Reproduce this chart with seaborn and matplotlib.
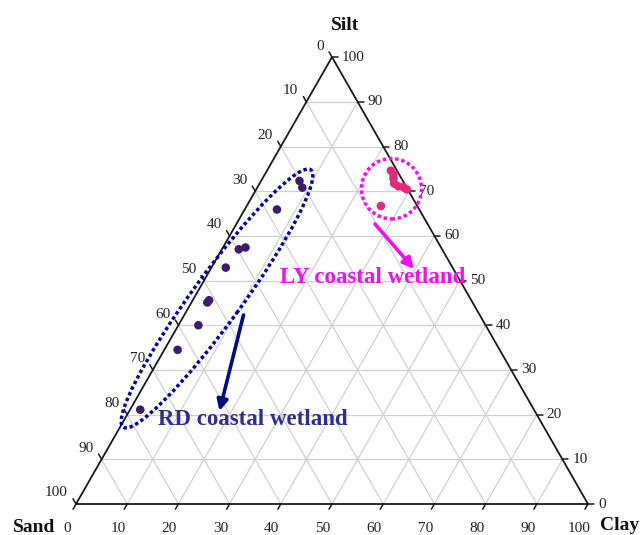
import numpy as np
import pandas as pd
import matplotlib
matplotlib.use("Agg")
import matplotlib.pyplot as plt
from matplotlib.patches import Ellipse
import seaborn as sns

# ---------------- data (percent) ----------------
rd_sand = [20.2, 20.4, 27.8, 39.7, 38.2, 44.3, 51.2, 51.8, 56.1, 62.9, 76.9]
rd_silt = [72.3, 70.8, 65.9, 57.0, 57.4, 52.9, 45.6, 45.1, 40.0, 34.5, 21.1]
rd_clay = [7.5, 8.8, 6.3, 3.3, 4.4, 2.8, 3.2, 3.1, 3.9, 2.6, 2.0]

ly_sand = [1.2, 1.1, 1.6, 2.0, 1.5, 0.6, 0.2, 7.1]
ly_silt = [74.6, 73.8, 72.8, 71.7, 71.1, 70.9, 70.4, 66.7]
ly_clay = [24.2, 25.1, 25.6, 26.3, 27.4, 28.5, 29.4, 26.2]

tick_values = [0, 10, 20, 30, 40, 50, 60, 70, 80, 90, 100]
axis_names = {"top": "Silt", "left": "Sand", "right": "Clay"}
group_labels = ["RD coastal wetland", "LY coastal wetland"]

# ---------------- geometry ----------------
H = np.sqrt(3) / 2
SX, SY = 512.0, 516.0       # pixels per data unit
OX, OY = 76.0, 504.0        # pixel position of Sand vertex (from top-left)
W_PX, H_PX = 643, 535


def tern(sand, silt, clay):
    tot = np.asarray(sand, float) + np.asarray(silt, float) + np.asarray(clay, float)
    c = np.asarray(clay, float) / tot
    s = np.asarray(silt, float) / tot
    return c + s / 2.0, s * H


def P(px, py):
    return (px - OX) / SX, (OY - py) / SY


sns.set_theme(style="white")
plt.rcParams["font.family"] = ["Liberation Serif", "DejaVu Serif"]

fig = plt.figure(figsize=(W_PX / 100, H_PX / 100), dpi=100)
ax = fig.add_axes([0, 0, 1, 1])
ax.set_xlim(-OX / SX, (W_PX - OX) / SX)
ax.set_ylim(-(H_PX - OY) / SY, OY / SY)
ax.axis("off")

# grid
gcol = "#d0d0d0"
for k in range(10, 100, 10):
    x, y = tern([100 - k, 0], [0, 100 - k], [k, k])
    ax.plot(x, y, color=gcol, lw=0.9, zorder=1)
    x, y = tern([100 - k, 0], [k, k], [0, 100 - k])
    ax.plot(x, y, color=gcol, lw=0.9, zorder=1)
    x, y = tern([k, k], [100 - k, 0], [0, 100 - k])
    ax.plot(x, y, color=gcol, lw=0.9, zorder=1)

# triangle
tx, ty = tern([100, 0, 0, 100], [0, 0, 100, 0], [0, 100, 0, 0])
ax.plot(tx, ty, color="#1a1a1a", lw=1.3, zorder=3, solid_joinstyle="miter")

# ticks & labels
tl = 6.0 / 514
fs_tick = 11
tcol = "#222222"
dl = np.array([-0.5, -H]); dl /= np.hypot(*dl)
du = np.array([-0.5, H]); du /= np.hypot(*du)
for v in tick_values:
    # bottom (Clay)
    x, y = tern([100 - v], [0], [v])
    x, y = x[0], y[0]
    ax.plot([x, x + dl[0] * tl], [y, y + dl[1] * tl], color="#1a1a1a", lw=1.1, zorder=3)
    ax.text(x - 9 / SX, y - 24 / SY, f"{v}", ha="center", va="center",
            fontsize=fs_tick, color=tcol)
    # right (Silt)
    x, y = tern([0], [v], [100 - v])
    x, y = x[0], y[0]
    ax.plot([x, x + tl], [y, y], color="#1a1a1a", lw=1.1, zorder=3)
    ax.text(x + 10 / SX, y, f"{v}", ha="left", va="center",
            fontsize=fs_tick, color=tcol)
    # left (Sand)
    x, y = tern([v], [100 - v], [0])
    x, y = x[0], y[0]
    ax.plot([x, x + du[0] * tl], [y, y + du[1] * tl], color="#1a1a1a", lw=1.1, zorder=3)
    ax.text(x - 8 / SX, y + 11 / SY, f"{v}", ha="right", va="center",
            fontsize=fs_tick, color=tcol)

# axis titles
ax.text(*P(345, 25), axis_names["top"], ha="center", va="center",
        fontsize=14, fontweight="bold", color="#111111")
ax.text(*P(34, 527), axis_names["left"], ha="center", va="center",
        fontsize=14, fontweight="bold", color="#111111")
ax.text(*P(600, 530), axis_names["right"], ha="left", va="baseline",
        fontsize=14, fontweight="bold", color="#111111")

# points
rx, ry = tern(rd_sand, rd_silt, rd_clay)
lx, ly = tern(ly_sand, ly_silt, ly_clay)
df = pd.DataFrame({
    "x": np.concatenate([rx, lx]),
    "y": np.concatenate([ry, ly]),
    "site": ["RD"] * len(rx) + ["LY"] * len(lx),
})
sns.scatterplot(data=df, x="x", y="y", hue="site",
                palette={"RD": "#3e1c6c", "LY": "#e42a7c"},
                s=38, edgecolor="none", linewidth=0, legend=False, ax=ax, zorder=5)
ax.set_xlabel("")
ax.set_ylabel("")

dot_style = (0, (1.0, 0.8))
# RD ellipse
ec = P(217, 298.5)
ax.add_patch(Ellipse(ec, width=318 / 514, height=49 / 514, angle=53.7,
                     fill=False, edgecolor="#00079a", lw=2.5,
                     linestyle=dot_style, capstyle="butt", zorder=4))
# LY circle
cc = P(391.5, 188.7)
ax.add_patch(Ellipse(cc, width=60 / SX, height=60.5 / SY, angle=0,
                     fill=False, edgecolor="#f010f0", lw=2.5,
                     linestyle=dot_style, capstyle="butt", zorder=4))

# arrows
ax.annotate("", xy=P(219.5, 411), xytext=P(243.5, 315),
            arrowprops=dict(arrowstyle="-|>", color="#000a8c", lw=2.6,
                            mutation_scale=16, shrinkA=0, shrinkB=0), zorder=6)
ax.annotate("", xy=P(414, 269), xytext=P(375, 224),
            arrowprops=dict(arrowstyle="-|>", color="#f010f0", lw=2.6,
                            mutation_scale=16, shrinkA=0, shrinkB=0), zorder=6)

# group labels
ax.text(*P(158, 425), group_labels[0], ha="left", va="baseline",
        fontsize=16.5, fontweight="bold", color="#2e2e92", zorder=7)
ax.text(*P(280.5, 283), group_labels[1], ha="left", va="baseline",
        fontsize=16.5, fontweight="bold", color="#f010f0", zorder=7)

fig.savefig("out.png", dpi=100)
